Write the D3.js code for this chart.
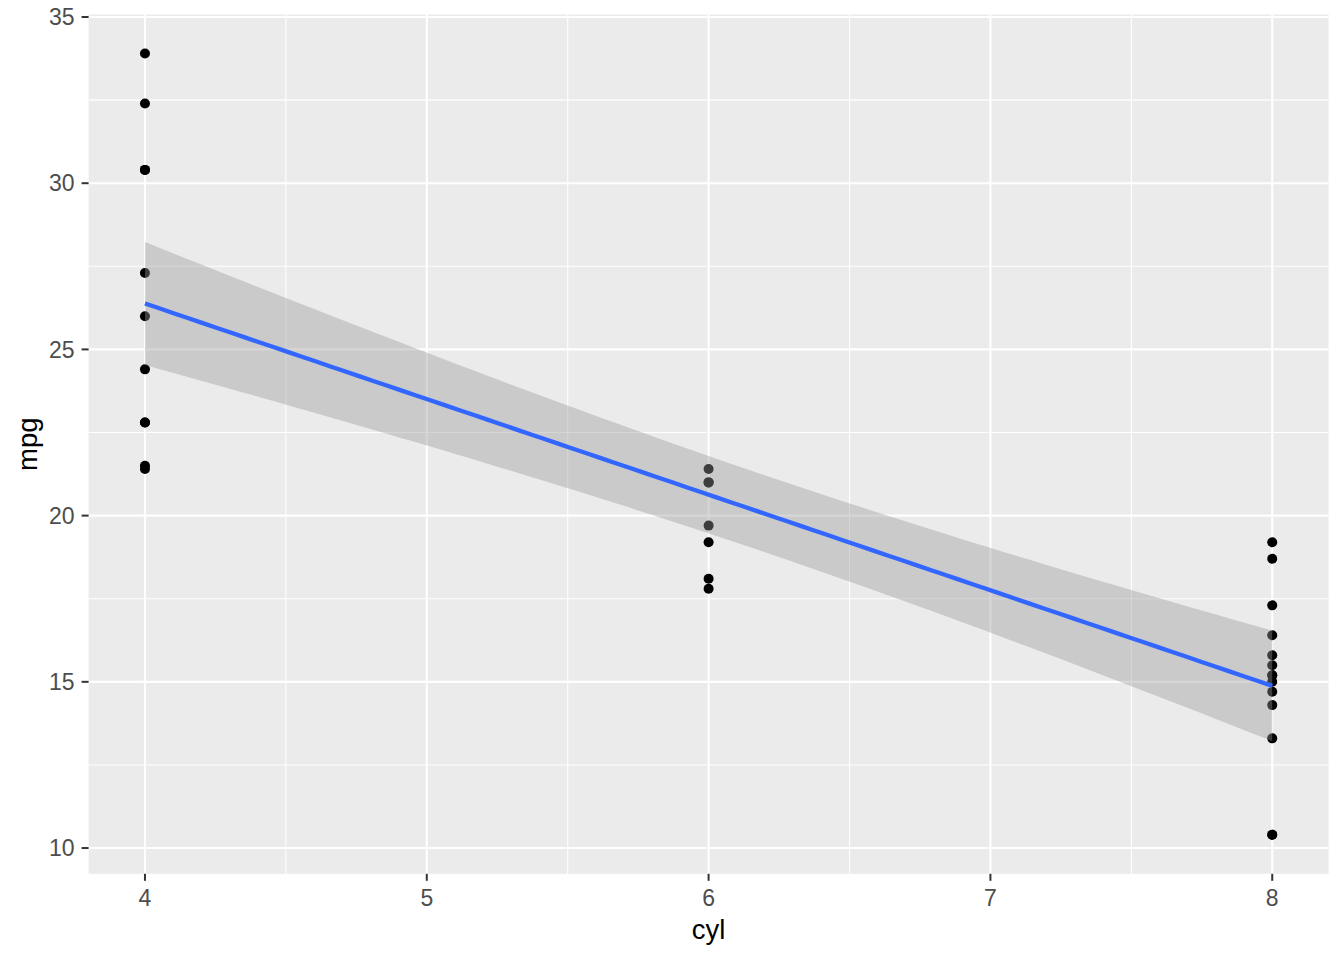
<!DOCTYPE html>
<html>
<head>
<meta charset="utf-8">
<script src="https://cdn.jsdelivr.net/npm/d3@7"></script>
<style>
  html, body { margin: 0; padding: 0; background: #ffffff; }
  svg { display: block; }
  text { font-family: "Liberation Sans", Arial, sans-serif; }
</style>
</head>
<body>
<svg id="chart" width="1344" height="960"></svg>
<script>
// mtcars: cyl and mpg
const cyl = [6,6,4,6,8,6,8,4,4,6,6,8,8,8,8,8,8,4,4,4,4,8,8,8,8,4,4,4,8,6,8,4];
const mpg = [21.0,21.0,22.8,21.4,18.7,18.1,14.3,24.4,22.8,19.2,17.8,16.4,17.3,15.2,10.4,10.4,14.7,32.4,30.4,33.9,21.5,15.5,15.2,13.3,19.2,27.3,26.0,30.4,15.8,19.7,15.0,21.4];
const xTicks = [4,5,6,7,8];
const xMinor = [4.5,5.5,6.5,7.5];
const yTicks = [10,15,20,25,30,35];
const yMinor = [12.5,17.5,22.5,27.5,32.5];
const xLabel = "cyl";
const yLabel = "mpg";
const tCrit = 2.042272; // qt(0.975, df = 30)

const svg = d3.select("#chart");
const panel = {left: 88.6, right: 1328.6, top: 14.5, bottom: 873.8};

const xMin = d3.min(cyl), xMax = d3.max(cyl);
const yMin = d3.min(mpg), yMax = d3.max(mpg);
const xr = xMax - xMin, yr = yMax - yMin;
const x = d3.scaleLinear().domain([xMin - 0.05 * xr, xMax + 0.05 * xr]).range([panel.left, panel.right]);
const y = d3.scaleLinear().domain([yMin - 0.05 * yr, yMax + 0.05 * yr]).range([panel.bottom, panel.top]);

// panel background
svg.append("rect").attr("x", panel.left).attr("y", panel.top)
  .attr("width", panel.right - panel.left).attr("height", panel.bottom - panel.top)
  .attr("fill", "#EBEBEB");

const grid = svg.append("g");
grid.selectAll(".ymin").data(yMinor).join("line")
  .attr("x1", panel.left).attr("x2", panel.right)
  .attr("y1", d => y(d)).attr("y2", d => y(d))
  .attr("stroke", "#fff").attr("stroke-width", 1.1);
grid.selectAll(".xmin").data(xMinor).join("line")
  .attr("y1", panel.top).attr("y2", panel.bottom)
  .attr("x1", d => x(d)).attr("x2", d => x(d))
  .attr("stroke", "#fff").attr("stroke-width", 1.1);
grid.selectAll(".ymaj").data(yTicks).join("line")
  .attr("x1", panel.left).attr("x2", panel.right)
  .attr("y1", d => y(d)).attr("y2", d => y(d))
  .attr("stroke", "#fff").attr("stroke-width", 2.1);
grid.selectAll(".xmaj").data(xTicks).join("line")
  .attr("y1", panel.top).attr("y2", panel.bottom)
  .attr("x1", d => x(d)).attr("x2", d => x(d))
  .attr("stroke", "#fff").attr("stroke-width", 2.1);

// points
const pts = cyl.map((c, i) => ({c, m: mpg[i]}));
svg.append("g").selectAll("circle").data(pts).join("circle")
  .attr("cx", d => x(d.c)).attr("cy", d => y(d.m)).attr("r", 5)
  .attr("fill", "#000");

// linear model fit (geom_smooth method = "lm")
const n = cyl.length;
const mx = d3.mean(cyl), my = d3.mean(mpg);
let sxx = 0, sxy = 0;
for (let i = 0; i < n; i++) { sxx += (cyl[i]-mx)**2; sxy += (cyl[i]-mx)*(mpg[i]-my); }
const b = sxy / sxx, a = my - b * mx;
let sse = 0;
for (let i = 0; i < n; i++) { sse += (mpg[i] - (a + b*cyl[i]))**2; }
const s = Math.sqrt(sse / (n - 2));
const grid80 = d3.range(80).map(i => xMin + (xMax - xMin) * i / 79);
const fit = grid80.map(xv => {
  const f = a + b * xv;
  const se = s * Math.sqrt(1/n + (xv - mx)**2 / sxx);
  return {xv, f, lo: f - tCrit*se, hi: f + tCrit*se};
});

svg.append("path").datum(fit)
  .attr("d", d3.area().x(d => x(d.xv)).y0(d => y(d.lo)).y1(d => y(d.hi)))
  .attr("fill", "#999999").attr("fill-opacity", 0.4);
svg.append("path").datum(fit)
  .attr("d", d3.line().x(d => x(d.xv)).y(d => y(d.f)))
  .attr("fill", "none").attr("stroke", "#3366FF").attr("stroke-width", 4.3);

// axes
const yAxis = svg.append("g");
yAxis.selectAll("line").data(yTicks).join("line")
  .attr("x1", panel.left - 7).attr("x2", panel.left)
  .attr("y1", d => y(d)).attr("y2", d => y(d))
  .attr("stroke", "#333333").attr("stroke-width", 2);
yAxis.selectAll("text").data(yTicks).join("text")
  .attr("x", panel.left - 14).attr("y", d => y(d))
  .attr("text-anchor", "end").attr("dy", "0.36em")
  .attr("font-size", 23).attr("fill", "#4D4D4D").text(d => d);

const xAxis = svg.append("g");
xAxis.selectAll("line").data(xTicks).join("line")
  .attr("y1", panel.bottom).attr("y2", panel.bottom + 7)
  .attr("x1", d => x(d)).attr("x2", d => x(d))
  .attr("stroke", "#333333").attr("stroke-width", 2);
xAxis.selectAll("text").data(xTicks).join("text")
  .attr("y", 906).attr("x", d => x(d))
  .attr("text-anchor", "middle")
  .attr("font-size", 23).attr("fill", "#4D4D4D").text(d => d);

svg.append("text").attr("x", (panel.left + panel.right) / 2).attr("y", 939)
  .attr("text-anchor", "middle").attr("font-size", 27.5).attr("fill", "#000").text(xLabel);
svg.append("text")
  .attr("transform", `translate(37, ${(panel.top + panel.bottom) / 2}) rotate(-90)`)
  .attr("text-anchor", "middle").attr("font-size", 27.5).attr("fill", "#000").text(yLabel);
</script>
</body>
</html>
